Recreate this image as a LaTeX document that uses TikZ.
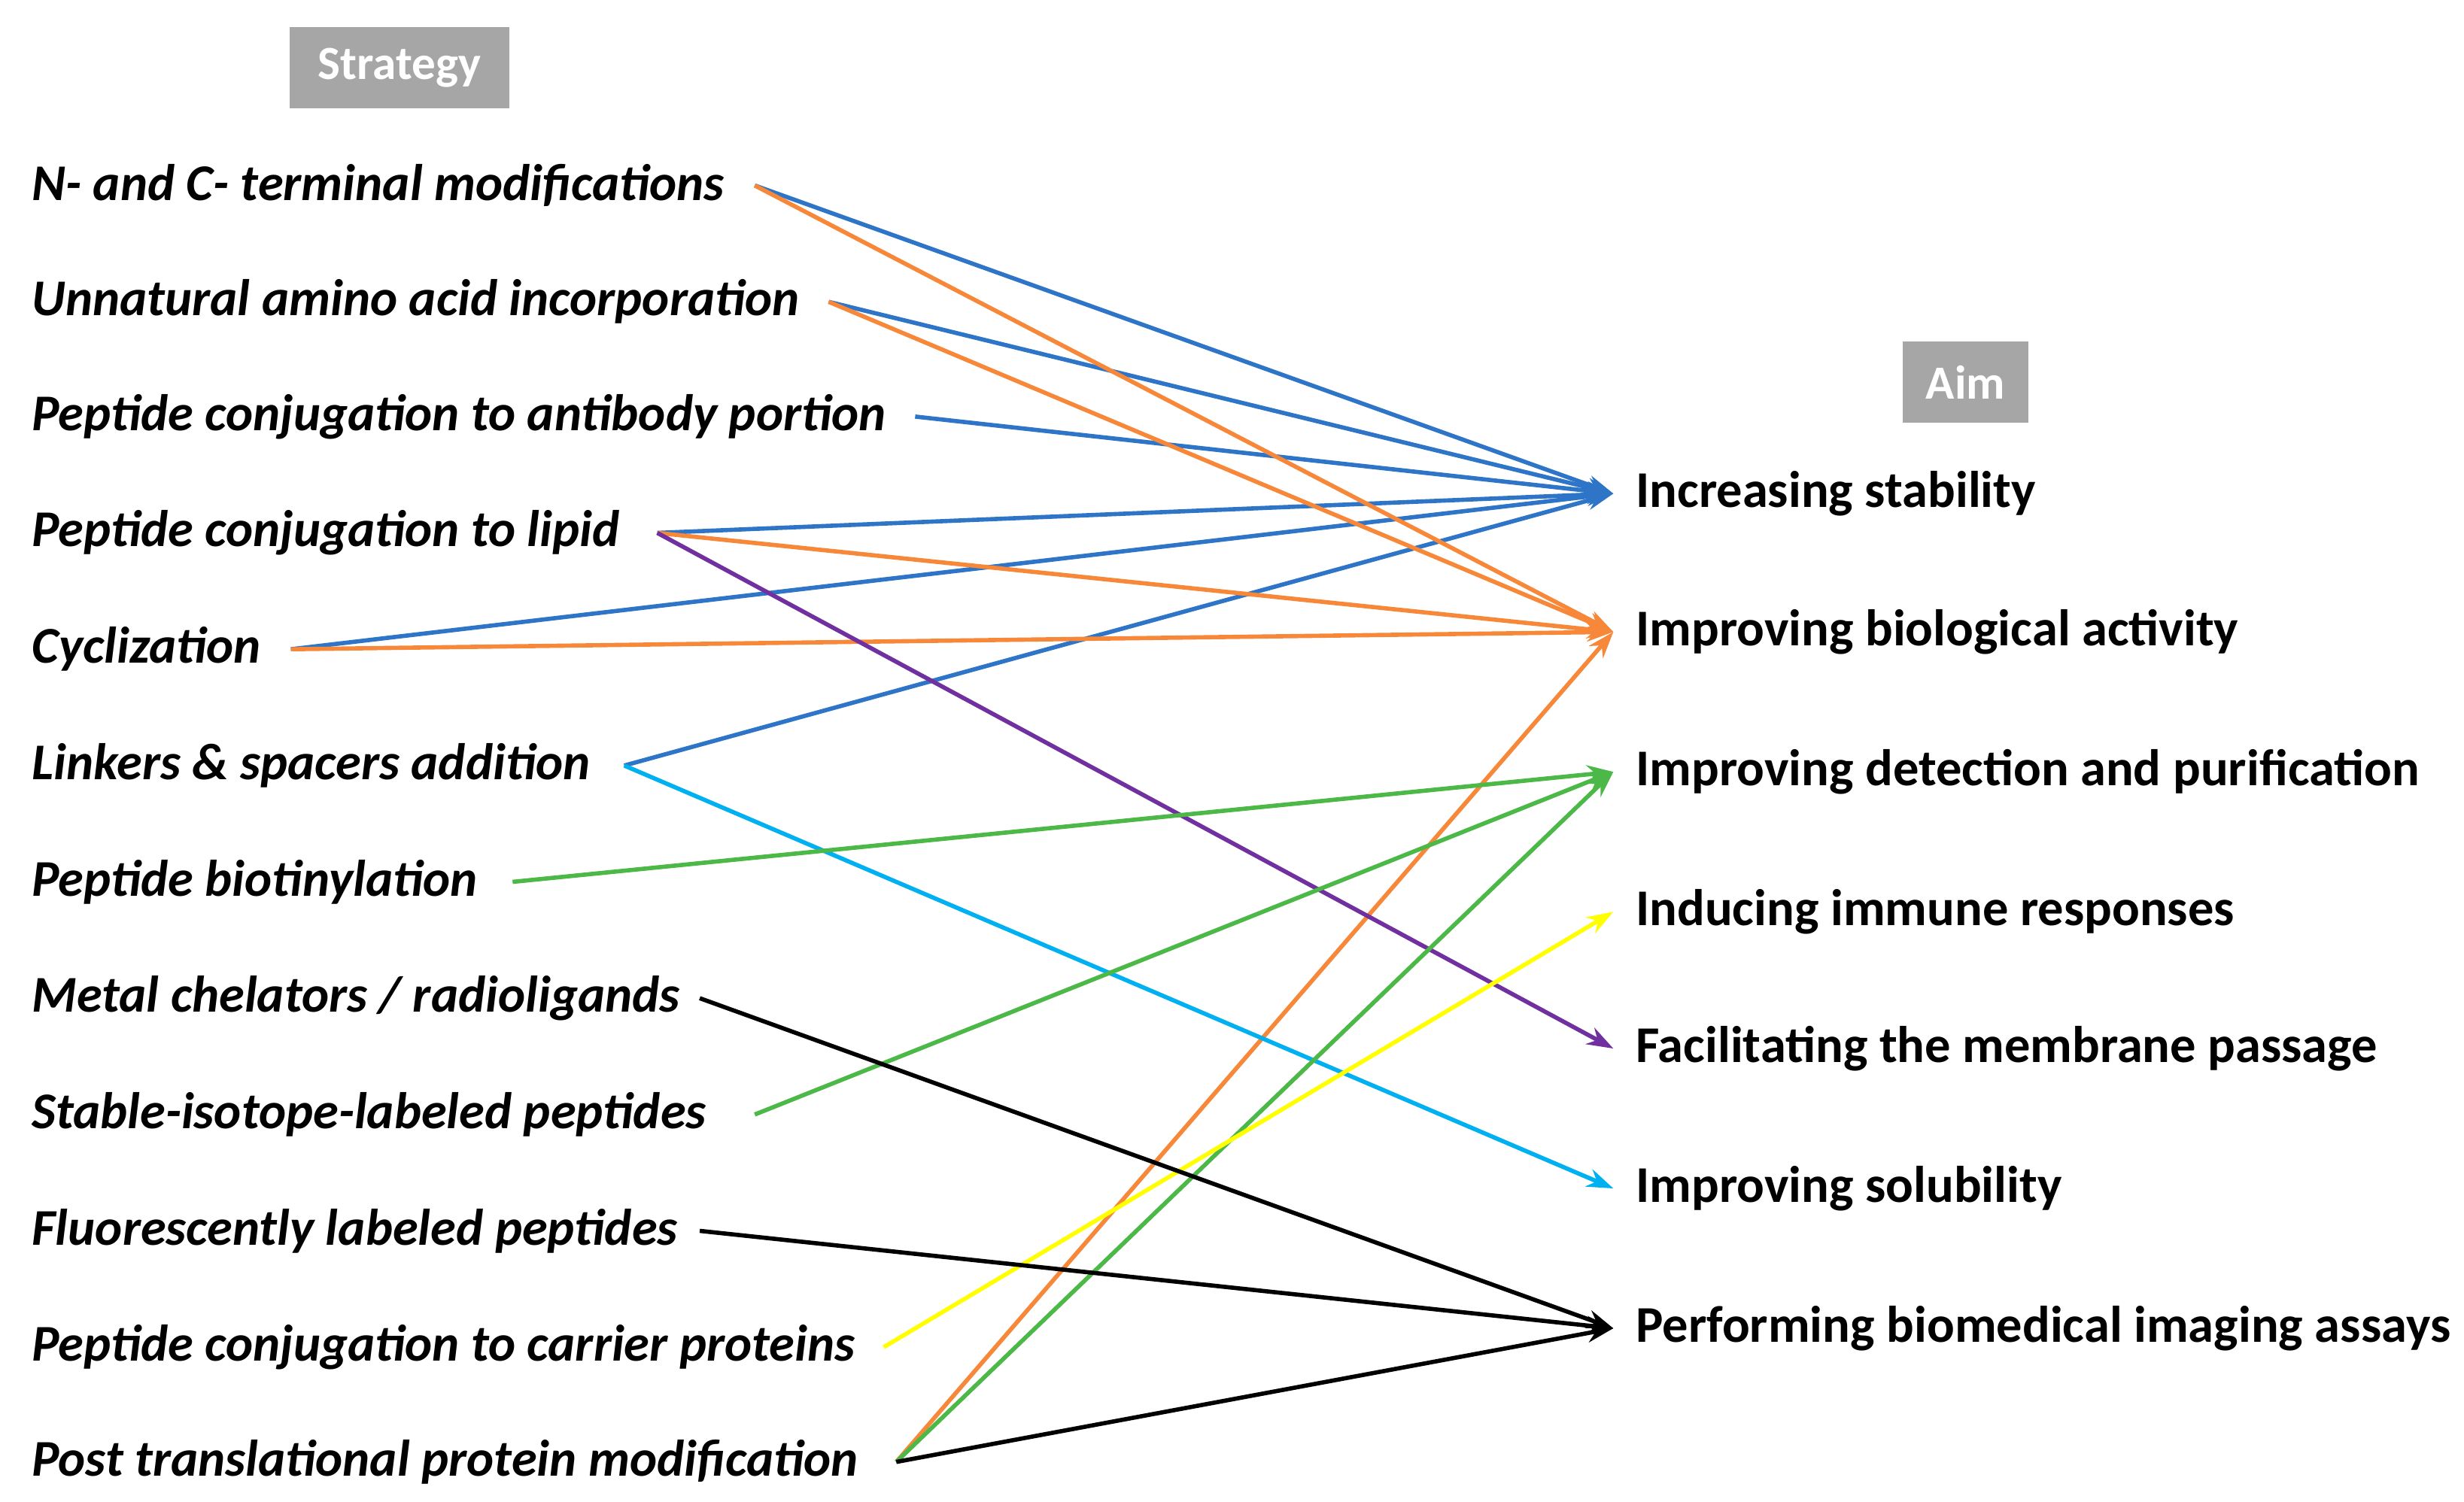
\documentclass[tikz,border=0pt]{standalone}
\usepackage{fontspec}
\setmainfont{Carlito}
\usetikzlibrary{arrows.meta}
\definecolor{cblue}{HTML}{2E75C8}
\definecolor{corange}{HTML}{F7883A}
\definecolor{cgreen}{HTML}{4CB848}
\definecolor{cpurple}{HTML}{7030A0}
\definecolor{ccyan}{HTML}{00B0F0}
\definecolor{cyellow}{HTML}{FFFF00}
\definecolor{hdr}{HTML}{A6A6A6}
\begin{document}
\begin{tikzpicture}[x=0.0209cm,y=-0.0209cm,
  lt/.style={anchor=west,inner sep=0pt,font=\fontsize{19.5}{23}\selectfont\bfseries\itshape},
  rt/.style={anchor=west,inner sep=0pt,font=\fontsize{19.5}{23}\selectfont\bfseries},
  hd/.style={fill=hdr,text=white,font=\fontsize{18}{21}\selectfont\bfseries,minimum height=52*0.0209cm},
  ln/.style={line width=1.6pt,-{Stealth[length=10pt,width=7pt]}}]
\useasboundingbox (0,0) rectangle (1567,955.5);
\node[hd,minimum width=140*0.0209cm] (hs) at (254,43) {Strategy};
\node[hd,minimum width=80*0.0209cm] (ha) at (1250,243) {Aim};
\foreach \n/\y/\e/\t in {
 l1/118/480/{N- and C- terminal modifications},
 l2/192/527/{Unnatural amino acid incorporation},
 l3/265/582/{Peptide conjugation to antibody portion},
 l4/339/418/{Peptide conjugation to lipid},
 l5/413/185/{Cyclization},
 l6/487/397/{Linkers \& spacers addition},
 l7/561/326/{Peptide biotinylation},
 l8/635/445/{Metal chelators / radioligands},
 l9/709/480/{Stable-isotope-labeled peptides},
 l10/783/445/{Fluorescently labeled peptides},
 l11/857/562/{Peptide conjugation to carrier proteins},
 l12/930/570/{Post translational protein modification}}{
  \node[lt] (t\n) at (20,\y) {\t};
  \coordinate (\n) at (\e,\y);
}
\foreach \n/\y/\t in {
 r1/314/{Increasing stability},
 r2/402/{Improving biological activity},
 r3/491/{Improving detection and purification},
 r4/580/{Inducing immune responses},
 r5/667/{Facilitating the membrane passage},
 r6/756/{Improving solubility},
 r7/845/{Performing biomedical imaging assays}}{
  \node[rt] (t\n) at (1040,\y) {\t};
  \coordinate (\n) at (1026,\y);
}
\foreach \a/\b in {l1/r1,l2/r1,l3/r1,l4/r1,l5/r1,l6/r1} \draw[ln,cblue] (\a) -- (\b);
\foreach \a/\b in {l1/r2,l2/r2,l4/r2,l5/r2,l12/r2} \draw[ln,corange] (\a) -- (\b);
\draw[ln,cpurple] (l4) -- (r5);
\draw[ln,ccyan] (l6) -- (r6);
\foreach \a in {l7,l9,l12} \draw[ln,cgreen] (\a) -- (r3);
\draw[ln,cyellow] (l11) -- (r4);
\foreach \a in {l8,l10,l12} \draw[ln,black] (\a) -- (r7);
\end{tikzpicture}
\end{document}
